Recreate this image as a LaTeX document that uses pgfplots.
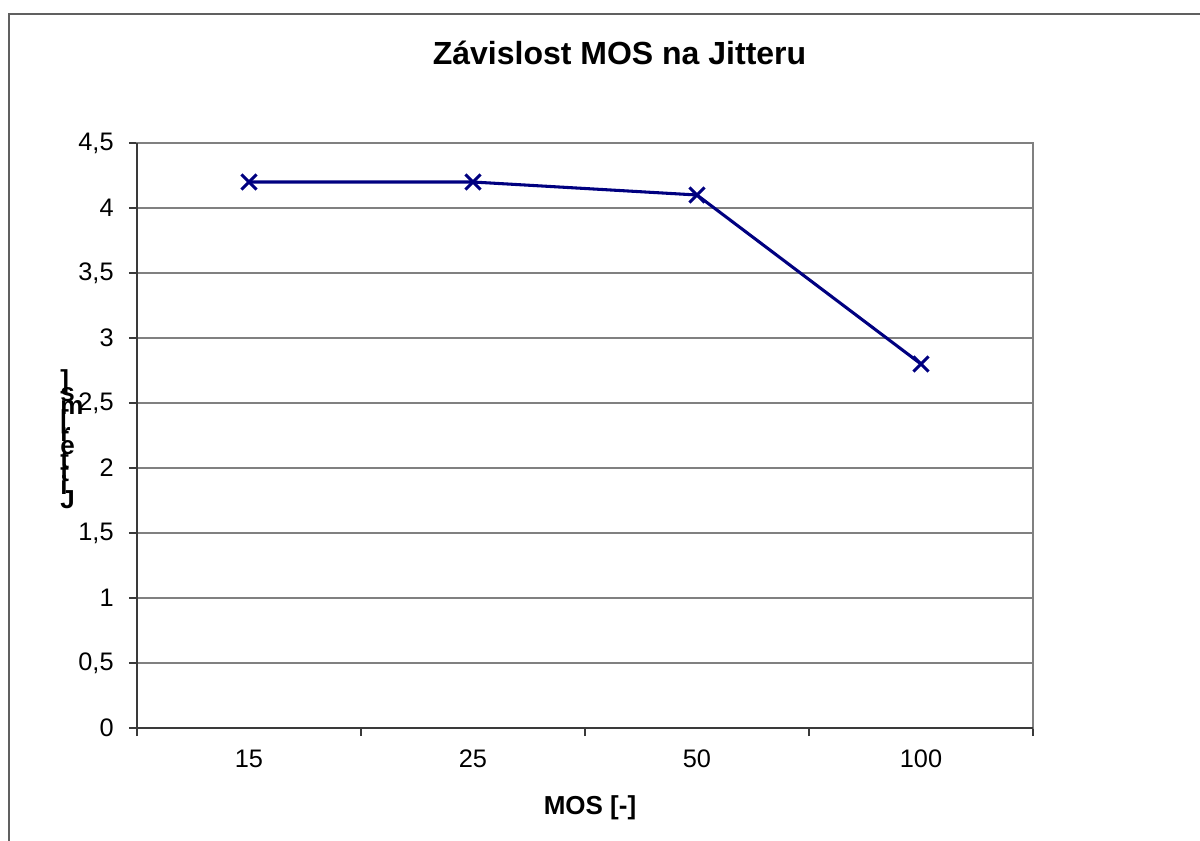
\documentclass[border=0pt]{standalone}
\usepackage{pgfplots}
\pgfplotsset{compat=1.18}
\usepackage{fontspec}
\setmainfont{Liberation Sans}
\definecolor{navy}{HTML}{000080}
\definecolor{gridgray}{HTML}{808080}
\definecolor{axdark}{HTML}{3A3A3A}
\definecolor{framegray}{HTML}{606060}
\newcommand\stk[1]{\hbox to 16pt{#1\hss}}
\begin{document}
\begin{tikzpicture}[x=0.75pt,y=0.75pt]
\useasboundingbox (0,0) rectangle (1200,840);
\draw[line width=1.5pt, color=framegray] (9,-20) -- (9,826) -- (1220,826);
\node[font=\fontsize{24}{28}\selectfont\bfseries, anchor=base] at (619.5,775) {Závislost MOS na Jitteru};
\begin{axis}[
  at={(102.75pt,84pt)}, anchor=south west,
  width=672pt, height=438.75pt, scale only axis,
  xmin=-0.5, xmax=3.5, ymin=0, ymax=4.5,
  xtick={0,1,2,3}, xticklabels={15,25,50,100},
  minor xtick={-0.5,0.5,1.5,2.5,3.5},
  ytick={0,0.5,1,1.5,2,2.5,3,3.5,4,4.5},
  yticklabels={0,{0,5},1,{1,5},2,{2,5},3,{3,5},4,{4,5}},
  xtick pos=bottom, ytick pos=left,
  tick align=outside,
  major tick length=6pt, minor tick length=6pt,
  major x tick style={draw=none},
  tick style={axdark, line width=1pt},
  ymajorgrids, grid style={gridgray, line width=1.1pt},
  axis line style={gridgray, line width=1.1pt},
  ticklabel style={font=\fontsize{19}{22}\selectfont},
  xticklabel style={yshift=-7pt},
  yticklabel style={xshift=-8pt},
  xlabel={MOS [-]},
  every axis x label/.style={at={(axis description cs:0.5056,-0.147)}, anchor=base, font=\fontsize{19.5}{23}\selectfont\bfseries},
  ylabel={\vbox{\baselineskip=10pt\lineskiplimit=-\maxdimen\lineskip=0pt\stk{]}\stk{s}\stk{m}\stk{[\ }\stk{r}\stk{e}\stk{t}\stk{t}\stk{i}\stk{J}}},
  every axis y label/.style={at={(axis description cs:-0.0859,0.494)}, anchor=west, inner sep=0pt, font=\fontsize{19.5}{23}\selectfont\bfseries},
  clip=false,
]
\addplot[navy, line width=2.3pt, mark=x, mark size=8pt, mark options={line width=2.2pt}] coordinates {(0,4.2) (1,4.2) (2,4.1) (3,2.8)};
\draw[axdark, line width=1.5pt] (rel axis cs:0,1) -- (rel axis cs:0,0) -- (rel axis cs:1,0);
\end{axis}
\end{tikzpicture}
\end{document}
